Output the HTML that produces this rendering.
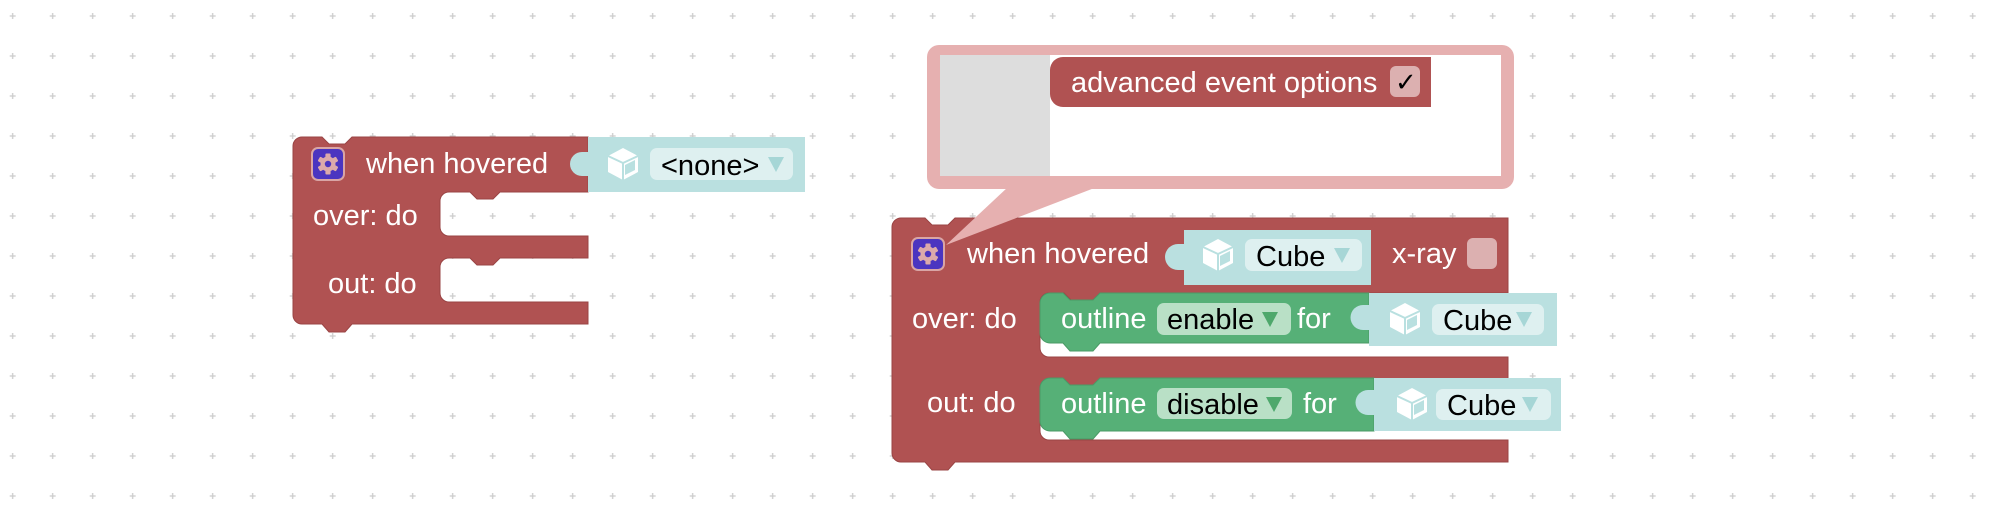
<!DOCTYPE html>
<html><head><meta charset="utf-8"><style>
html,body{margin:0;padding:0;background:#fff;width:2000px;height:513px;overflow:hidden}
svg{display:block}
text{font-family:"Liberation Sans",Arial,sans-serif;font-size:29px}
.w{fill:#fff}.k{fill:#000}
</style></head><body>
<svg width="2000" height="513" viewBox="0 0 2000 513" xmlns="http://www.w3.org/2000/svg">
<defs>
<pattern id="g" x="-7.3" y="-4" width="40" height="40" patternUnits="userSpaceOnUse">
<path d="M20 17V23M17 20H23" stroke="#cccccc" stroke-width="1.3"/>
</pattern>
<g id="gear">
<rect x="0" y="0" width="32" height="32" rx="6" fill="#4b35c0" stroke="#d9a5a5" stroke-width="2"/>
<g transform="translate(16,16)" fill="#dcaaaa">
<circle r="7.5"/>
<rect x="-2.6" y="-10.5" width="5.2" height="21" rx="1"/>
<rect x="-2.6" y="-10.5" width="5.2" height="21" rx="1" transform="rotate(60)"/>
<rect x="-2.6" y="-10.5" width="5.2" height="21" rx="1" transform="rotate(120)"/>
<circle r="3.2" fill="#4b35c0"/>
</g>
</g>
<g id="cube">
<path d="M15 0 L30 8 V24 L15 32 L0 24 V8 Z" fill="#fff"/>
<path d="M15 15 L30 8 M15 15 L0 8 M15 15 V32" stroke="#b9e0e0" stroke-width="2" fill="none"/>
<path d="M17 17 L27 12 V22 L17 27 Z" fill="#b9e0e0"/>
</g>
</defs>
<rect width="2000" height="513" fill="url(#g)"/>

<!-- LEFT BLOCK -->
<path d="M293 146 a9 9 0 0 1 9 -9 H322 l7 7 h16 l7 -7 H588 V192 H500 l-7 7 h-16 l-7 -7 H449 a9 9 0 0 0 -9 9 V227 a9 9 0 0 0 9 9 H588 V258 H500 l-7 7 h-16 l-7 -7 H449 a9 9 0 0 0 -9 9 V293 a9 9 0 0 0 9 9 H588 V324 H352 l-7 8 h-16 l-7 -8 H302 a9 9 0 0 1 -9 -9 Z" fill="#b05252" stroke="#9a4444" stroke-width="1"/>
<path d="M588 137 H805 V192 H588 Z" fill="#bae0e0"/>
<path d="M588 152 h-6 a12 12 0 0 0 0 24 h6 Z" fill="#bae0e0"/>
<use href="#gear" x="312" y="148"/>
<text x="366" y="173" class="w">when hovered</text>
<use href="#cube" x="608" y="148"/>
<rect x="650" y="148" width="143" height="32" rx="7" fill="#def0f0"/>
<text x="661" y="175" class="k">&lt;none&gt;</text>
<path d="M768 157 h16 l-8 15 Z" fill="#a6d6d6"/>
<text x="313" y="225" class="w">over: do</text>
<text x="328" y="293" class="w">out: do</text>

<!-- BUBBLE -->
<rect x="927" y="45" width="587" height="144" rx="12" fill="#e6b0b0"/>
<rect x="940" y="55" width="561" height="121" fill="#fff"/>
<rect x="940" y="55" width="110" height="121" fill="#dddddd"/>
<path d="M1050 70 a13 13 0 0 1 13 -13 H1431 V107 H1063 a13 13 0 0 1 -13 -13 Z" fill="#b05252"/>
<text x="1071" y="92" class="w">advanced event options</text>
<rect x="1390" y="66" width="30" height="31" rx="6" fill="#dcb0b0"/>
<text x="1395" y="91" class="k" style="font-size:26px">✓</text>

<!-- RIGHT MAIN BLOCK -->
<path d="M892 227 a9 9 0 0 1 9 -9 H925 l7 7 h16 l7 -7 H1508 V293 H1100 l-7 7 h-22 l-7 -7 H1049 a9 9 0 0 0 -9 9 V348 a9 9 0 0 0 9 9 H1508 V379 H1100 l-7 7 h-22 l-7 -7 H1049 a9 9 0 0 0 -9 9 V431 a9 9 0 0 0 9 9 H1508 V462 H955 l-7 8 h-16 l-7 -8 H901 a9 9 0 0 1 -9 -9 Z" fill="#b05252" stroke="#9a4444" stroke-width="1"/>
<path d="M1184 230 H1371 V285 H1184 Z" fill="#bae0e0"/>
<path d="M1184 244 h-6 a12 12 0 0 0 0 26 h6 Z" fill="#bae0e0"/>
<path d="M1008 187 L1097 187 L946 245 Z" fill="#e6b0b0"/>
<use href="#gear" x="912" y="238"/>
<text x="967" y="263" class="w">when hovered</text>
<use href="#cube" x="1203" y="239"/>
<rect x="1245" y="239" width="117" height="32" rx="7" fill="#def0f0"/>
<text x="1256" y="266" class="k">Cube</text>
<path d="M1334 248 h16 l-8 15 Z" fill="#a6d6d6"/>
<text x="1392" y="263" class="w">x-ray</text>
<rect x="1467" y="238" width="30" height="31" rx="6" fill="#dcb0b0"/>
<text x="912" y="328" class="w">over: do</text>
<text x="927" y="412" class="w">out: do</text>

<!-- GREEN 1 -->
<path d="M1040 303 a10 10 0 0 1 10 -10 H1063 l7 7 h23 l7 -7 H1369 V343 H1100 l-7 8 h-23 l-7 -8 H1050 a10 10 0 0 1 -10 -10 Z" fill="#56b077" stroke="#4a9a66" stroke-width="1"/>
<path d="M1369 293 H1557 V346 H1369 Z" fill="#bae0e0"/>
<path d="M1369 305 h-6 a12 12 0 0 0 0 25 h6 Z" fill="#bae0e0"/>
<text x="1061" y="328" class="w">outline</text>
<rect x="1157" y="303" width="134" height="32" rx="7" fill="#b9e0c6"/>
<text x="1167" y="329" class="k">enable</text>
<path d="M1262 312 h16 l-8 15 Z" fill="#4ea86c"/>
<text x="1297" y="328" class="w">for</text>
<use href="#cube" x="1390" y="303"/>
<rect x="1432" y="304" width="112" height="31" rx="7" fill="#def0f0"/>
<text x="1443" y="330" class="k">Cube</text>
<path d="M1516 312 h16 l-8 15 Z" fill="#a6d6d6"/>

<!-- GREEN 2 -->
<path d="M1040 388 a10 10 0 0 1 10 -10 H1063 l7 7 h23 l7 -7 H1374 V431 H1100 l-7 8 h-23 l-7 -8 H1050 a10 10 0 0 1 -10 -10 Z" fill="#56b077" stroke="#4a9a66" stroke-width="1"/>
<path d="M1374 378 H1561 V431 H1374 Z" fill="#bae0e0"/>
<path d="M1374 390 h-6 a12 12 0 0 0 0 25 h6 Z" fill="#bae0e0"/>
<text x="1061" y="413" class="w">outline</text>
<rect x="1157" y="388" width="135" height="31" rx="7" fill="#b9e0c6"/>
<text x="1167" y="414" class="k">disable</text>
<path d="M1266 397 h16 l-8 15 Z" fill="#4ea86c"/>
<text x="1303" y="413" class="w">for</text>
<use href="#cube" x="1397" y="388"/>
<rect x="1436" y="389" width="115" height="31" rx="7" fill="#def0f0"/>
<text x="1447" y="415" class="k">Cube</text>
<path d="M1522 397 h16 l-8 15 Z" fill="#a6d6d6"/>
</svg>
</body></html>
